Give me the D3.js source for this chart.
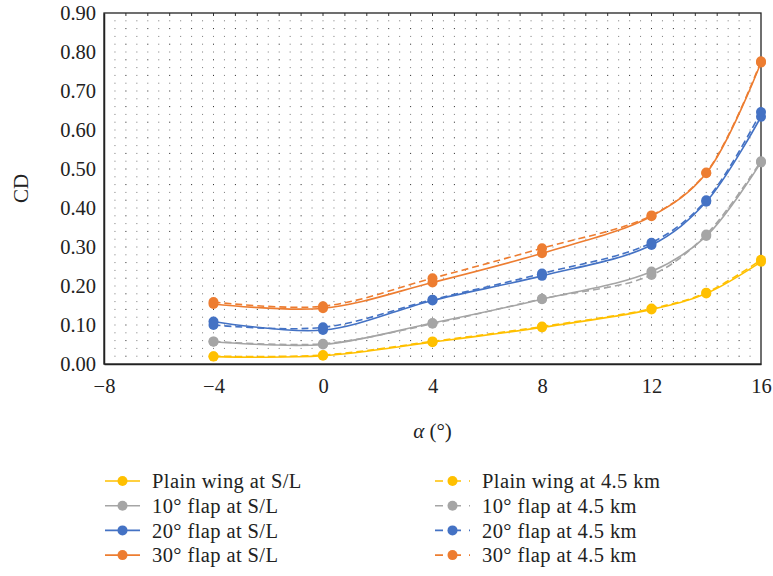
<!DOCTYPE html>
<html>
<head>
<meta charset="utf-8">
<script src="https://cdn.jsdelivr.net/npm/d3@7"></script>
<style>
  html, body { margin: 0; padding: 0; background: #fff; }
  svg { display: block; font-family: "Liberation Serif", "DejaVu Serif", serif; }
</style>
</head>
<body>
<svg id="chart" width="773" height="576"></svg>
<script>
// Angle of attack (degrees)
const alpha = [-4, 0, 4, 8, 12, 14, 16];

// Drag coefficient CD per configuration
const plainSL   = [0.019, 0.021, 0.056, 0.094, 0.140, 0.181, 0.262];
const plain45   = [0.020, 0.023, 0.058, 0.096, 0.142, 0.183, 0.267];
const flap10SL  = [0.057, 0.050, 0.105, 0.166, 0.237, 0.328, 0.517];
const flap10_45 = [0.058, 0.052, 0.103, 0.167, 0.228, 0.332, 0.520];
const flap20SL  = [0.109, 0.087, 0.163, 0.226, 0.305, 0.416, 0.634];
const flap20_45 = [0.100, 0.094, 0.165, 0.232, 0.311, 0.420, 0.646];
const flap30SL  = [0.154, 0.143, 0.209, 0.284, 0.379, 0.489, 0.773];
const flap30_45 = [0.159, 0.148, 0.220, 0.297, 0.381, 0.491, 0.776];

const seriesNames = [
  "Plain wing at S/L", "10° flap at S/L", "20° flap at S/L", "30° flap at S/L",
  "Plain wing at 4.5 km", "10° flap at 4.5 km", "20° flap at 4.5 km", "30° flap at 4.5 km"
];

const xTicks = [-8, -4, 0, 4, 8, 12, 16];
const yTicks = [0, 0.1, 0.2, 0.3, 0.4, 0.5, 0.6, 0.7, 0.8, 0.9];

const colors = ["#FFC000", "#A5A5A5", "#4472C4", "#ED7D31"];

const series = [
  { name: seriesNames[0], values: plainSL,   color: colors[0], dashed: false },
  { name: seriesNames[1], values: flap10SL,  color: colors[1], dashed: false },
  { name: seriesNames[2], values: flap20SL,  color: colors[2], dashed: false },
  { name: seriesNames[3], values: flap30SL,  color: colors[3], dashed: false },
  { name: seriesNames[4], values: plain45,   color: colors[0], dashed: true },
  { name: seriesNames[5], values: flap10_45, color: colors[1], dashed: true },
  { name: seriesNames[6], values: flap20_45, color: colors[2], dashed: true },
  { name: seriesNames[7], values: flap30_45, color: colors[3], dashed: true }
];

const svg = d3.select("#chart");
const L = 104, R = 761, T = 13, B = 364;

const x = d3.scaleLinear().domain([-8, 16]).range([L, R]);
const y = d3.scaleLinear().domain([0, 0.9]).range([B, T]);

// Dotted background grid
const grid = svg.append("g");
const gx = d3.range(-8 + 0.4, 16, 0.4);
const gy = d3.range(0.02, 0.9, 0.02);
gy.forEach((v, j) => {
  gx.forEach((u, i) => {
    grid.append("rect")
      .attr("x", x(u) - 0.5).attr("y", y(v) - 0.5)
      .attr("width", 1).attr("height", 1)
      .attr("fill", (i % 2 === 1 && j % 2 === 0) ? "#222" : "#777");
  });
});
// top-edge minor ticks
d3.range(-8 + 0.8, 16, 0.8).forEach(u => {
  grid.append("line")
    .attr("x1", x(u)).attr("x2", x(u)).attr("y1", T).attr("y2", T + 3)
    .attr("stroke", "#333").attr("stroke-width", 1);
});

// Frame
svg.append("rect")
  .attr("x", L).attr("y", T).attr("width", R - L).attr("height", B - T)
  .attr("fill", "none").attr("stroke", "#222").attr("stroke-width", 1.3);

// Axes
const xAxis = d3.axisBottom(x).tickValues(xTicks).tickSize(0).tickPadding(14)
  .tickFormat(d => d < 0 ? "\u2212" + Math.abs(d) : String(d));
const gxa = svg.append("g").attr("transform", `translate(0,${B})`).call(xAxis);
gxa.select(".domain").attr("stroke", "#222").attr("stroke-width", 1.5);
gxa.selectAll("text").attr("font-family", "Liberation Serif, serif").attr("font-size", 20.5).attr("fill", "#222");

const yAxis = d3.axisLeft(y).tickValues(yTicks).tickSize(0).tickPadding(8)
  .tickFormat(d3.format(".2f"));
const gya = svg.append("g").attr("transform", `translate(${L},0)`).call(yAxis);
gya.select(".domain").attr("stroke", "#222").attr("stroke-width", 1.5);
gya.selectAll("text").attr("font-family", "Liberation Serif, serif").attr("font-size", 20.5).attr("fill", "#222");

// Axis titles
svg.append("text")
  .attr("x", (L + R) / 2).attr("y", 438)
  .attr("text-anchor", "middle")
  .attr("font-size", 21).attr("fill", "#222")
  .html('<tspan font-style="italic">α</tspan> (°)');

svg.append("text")
  .attr("transform", `translate(28,${(T + B) / 2}) rotate(-90)`)
  .attr("text-anchor", "middle")
  .attr("font-size", 21).attr("fill", "#222")
  .text("CD");

// Curves and markers
const line = d3.line()
  .x((d, i) => x(alpha[i]))
  .y(d => y(d))
  .curve(d3.curveCatmullRom.alpha(0.5));

const plot = svg.append("g");
series.forEach(s => {
  plot.append("path")
    .attr("d", line(s.values))
    .attr("fill", "none")
    .attr("stroke", s.color)
    .attr("stroke-width", 1.6)
    .attr("stroke-dasharray", s.dashed ? "7,4" : null);
});
series.forEach(s => {
  plot.selectAll(null).data(s.values).enter().append("circle")
    .attr("cx", (d, i) => x(alpha[i]))
    .attr("cy", d => y(d))
    .attr("r", 5)
    .attr("fill", s.color);
});

// Legend
const legend = svg.append("g");
series.forEach((s, k) => {
  const col = k < 4 ? 0 : 1;
  const row = k % 4;
  const lx = col === 0 ? 105 : 435;
  const ly = 481 + row * 24.7;
  const g = legend.append("g").attr("transform", `translate(${lx},${ly})`);
  g.append("line")
    .attr("x1", 0).attr("x2", 35).attr("y1", 0).attr("y2", 0)
    .attr("stroke", s.color).attr("stroke-width", 1.6)
    .attr("stroke-dasharray", s.dashed ? "8,10,8" : null);
  g.append("circle").attr("cx", 17.5).attr("cy", 0).attr("r", 5).attr("fill", s.color);
  g.append("text")
    .attr("x", 47).attr("y", 0).attr("dy", "0.35em")
    .attr("font-size", 20.5).attr("letter-spacing", 0.4).attr("fill", "#222")
    .text(s.name);
});
</script>
</body>
</html>
